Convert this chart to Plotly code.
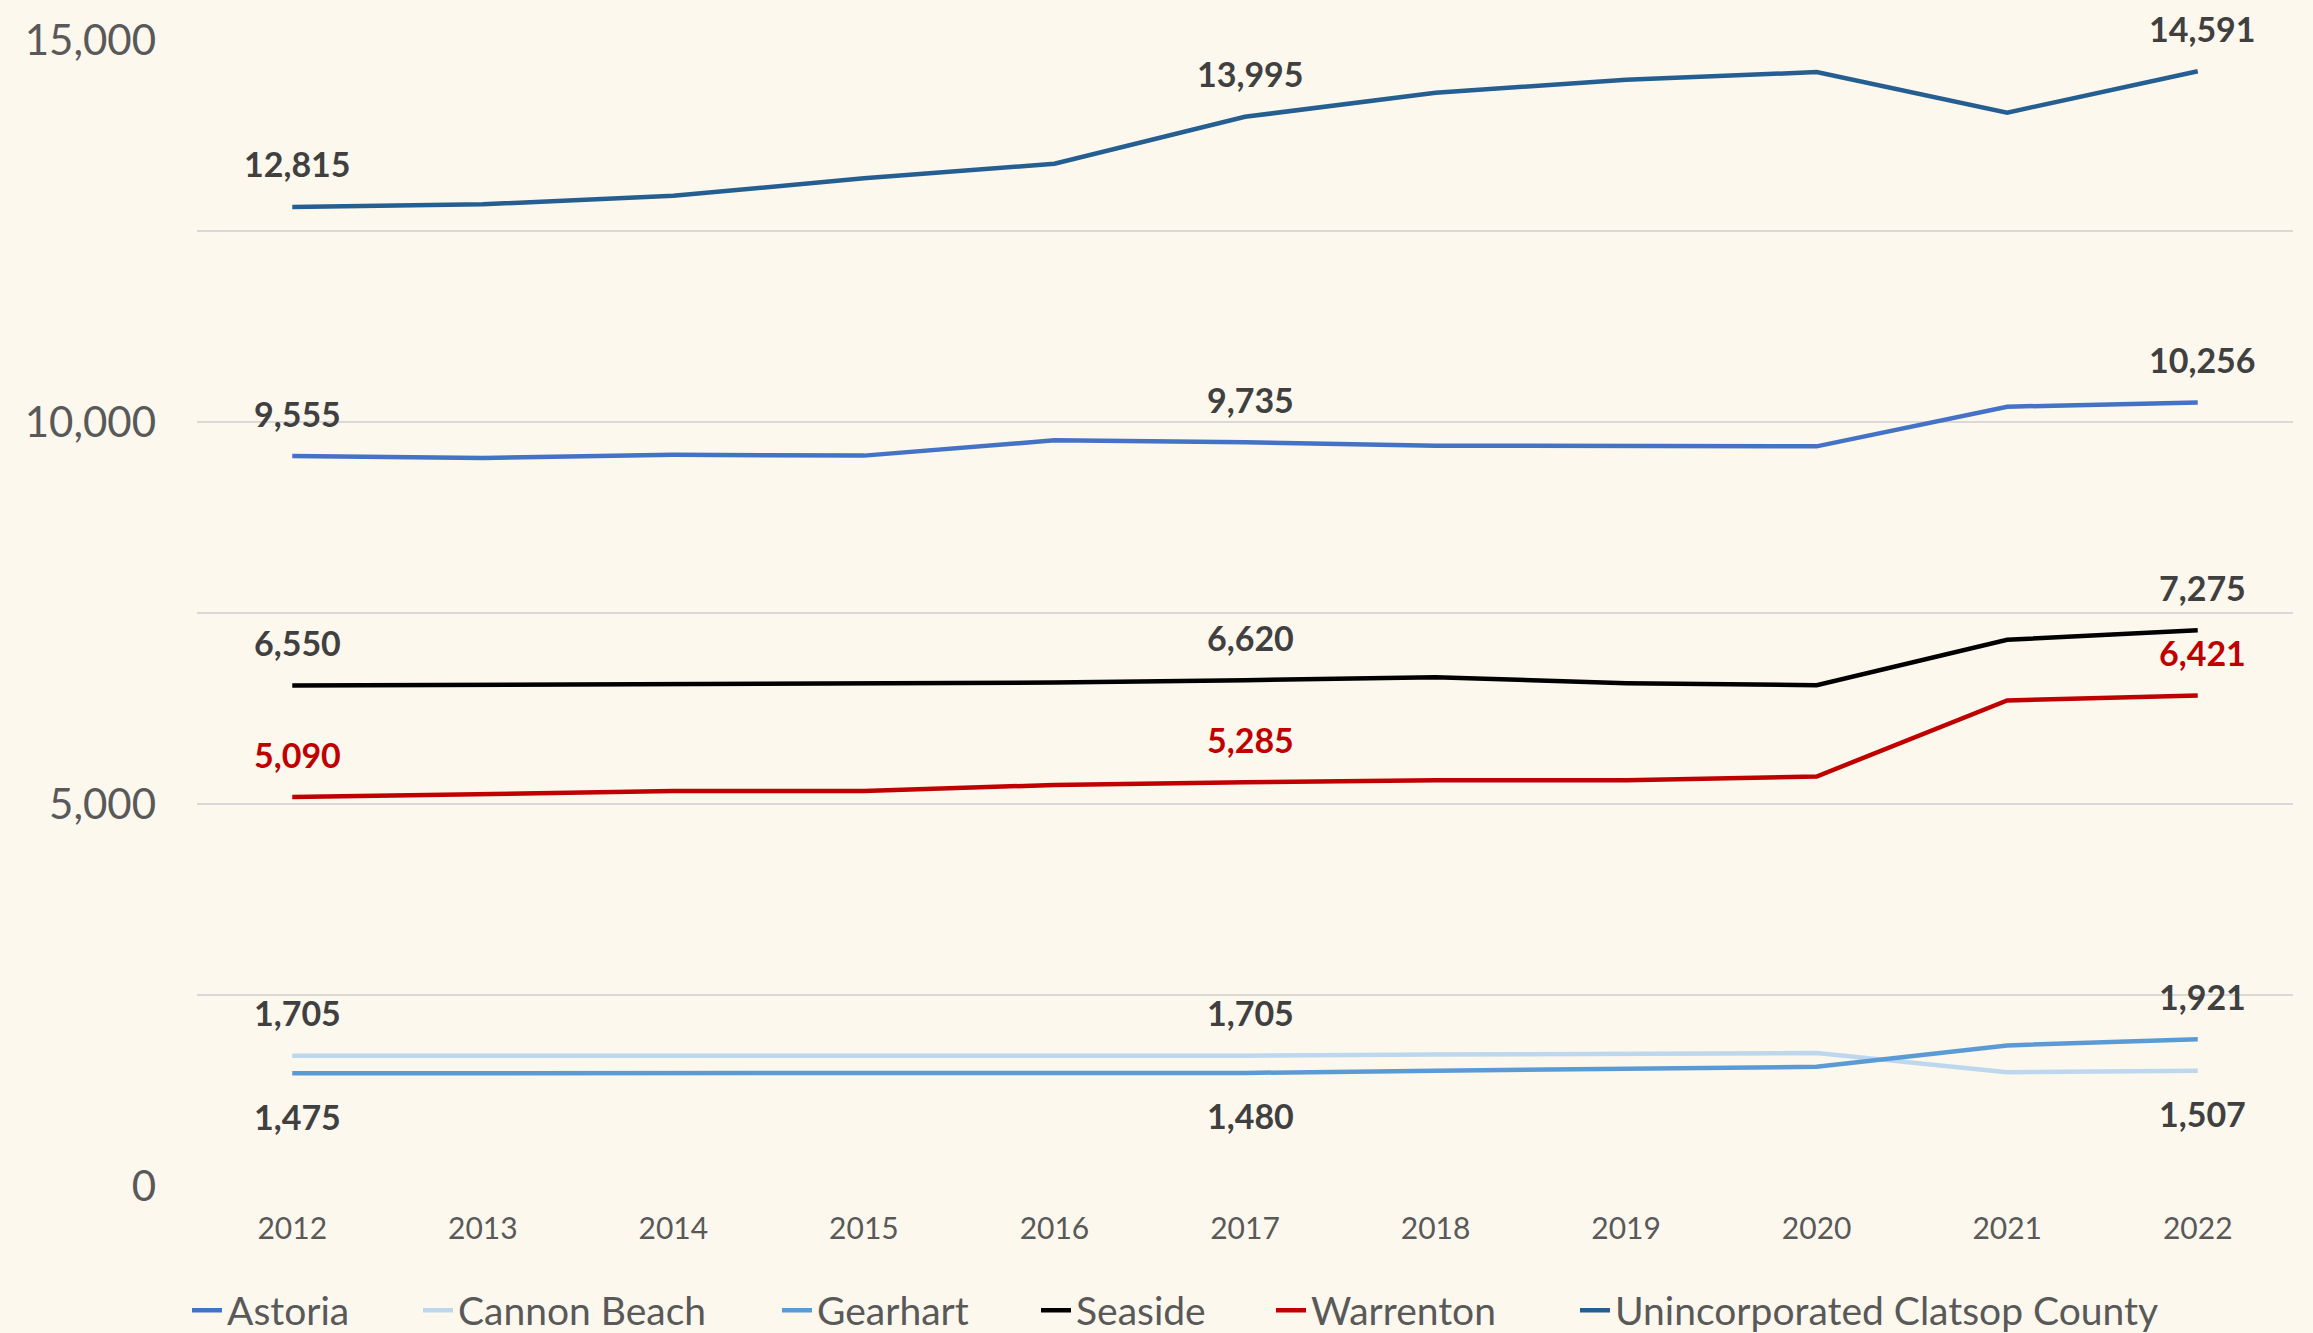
import plotly.graph_objects as go

years = [2012, 2013, 2014, 2015, 2016, 2017, 2018, 2019, 2020, 2021, 2022]
astoria = [9555, 9530, 9570, 9560, 9760, 9735, 9690, 9690, 9681, 10200, 10256]
cannon_beach = [1705, 1705, 1705, 1705, 1715, 1705, 1720, 1730, 1740, 1490, 1507]
gearhart = [1475, 1475, 1475, 1475, 1475, 1480, 1510, 1530, 1560, 1840, 1921]
seaside = [6550, 6560, 6560, 6580, 6590, 6620, 6660, 6580, 6555, 7150, 7275]
warrenton = [5090, 5130, 5170, 5170, 5250, 5285, 5310, 5310, 5360, 6356, 6421]
unincorporated = [12815, 12850, 12960, 13190, 13380, 13995, 14310, 14480, 14580, 14050, 14591]

series_names = ["Astoria", "Cannon Beach", "Gearhart", "Seaside", "Warrenton",
                "Unincorporated Clatsop County"]
series_values = [astoria, cannon_beach, gearhart, seaside, warrenton, unincorporated]
label_years = [2012, 2017, 2022]

# styles
colors = ["#4472C4", "#BDD7EE", "#5B9BD5", "#000000", "#C00000", "#255E91"]
label_colors = ["#404040", "#404040", "#404040", "#404040", "#C00000", "#404040"]
# +1 = label above, -1 = label below, per label year
label_dirs = [
    [1, 1, 1],
    [1, 1, -1],
    [-1, -1, 1],
    [1, 1, 1],
    [1, 1, 1],
    [1, 1, 1],
]
# legend entry text start positions (px in container)
legend_x_px = [232, 463, 822, 1081, 1316, 1620]

W, H = 2313, 1333
BG = "#FCF8EE"
fig = go.Figure()
legend_ids = ["legend"] + [f"legend{i}" for i in range(2, len(series_names) + 1)]
for name, vals, col, lid in zip(series_names, series_values, colors, legend_ids):
    fig.add_trace(go.Scatter(
        x=years, y=vals, name=name, mode="lines",
        line=dict(color=col, width=4.5),
        cliponaxis=False, legend=lid,
    ))

annotations = []
for vals, lc, dirs in zip(series_values, label_colors, label_dirs):
    for yr, d in zip(label_years, dirs):
        v = vals[years.index(yr)]
        annotations.append(dict(
            x=yr, y=v, xref="x", yref="y", text=f"{v:,}", showarrow=False,
            yshift=43 * d, xshift=5,
            font=dict(family="Lato", size=34, color=lc, weight="bold"),
        ))

legend_layouts = {}
for lid, px in zip(legend_ids, legend_x_px):
    legend_layouts[lid] = dict(
        orientation="h", xref="container", yref="container",
        x=(px - 45) / W, xanchor="left", y=0.017, yanchor="middle",
        font=dict(family="Lato", size=39, color="#595959"),
        bgcolor="rgba(0,0,0,0)", itemwidth=30,
    )

fig.update_layout(
    width=W, height=H,
    paper_bgcolor=BG, plot_bgcolor=BG,
    margin=dict(l=197, r=20, t=40, b=147),
    annotations=annotations,
    showlegend=True,
    **legend_layouts,
    xaxis=dict(
        range=[2011.5, 2022.5], tickvals=years, ticktext=[str(y) for y in years],
        showgrid=False, zeroline=False, showline=False,
        tickfont=dict(family="Lato", size=30, color="#595959"),
        ticks="", ticklabelstandoff=22,
    ),
    yaxis=dict(
        range=[0, 15000], tickvals=[0, 5000, 10000, 15000],
        ticktext=["0", "5,000", "10,000", "15,000"],
        showgrid=True, gridcolor="#D9D9D9", gridwidth=2,
        zeroline=False, showline=False, ticks="",
        tickfont=dict(family="Lato", size=42, color="#595959"),
        ticklabelstandoff=40,
        minor=dict(dtick=2500, tick0=0, showgrid=True, gridcolor="#D9D9D9", gridwidth=2),
    ),
)

fig.write_html(
    "out.html",
    config={"displayModeBar": False},
    post_script="document.body.style.margin='0px'; document.body.style.background='" + BG + "';",
)
